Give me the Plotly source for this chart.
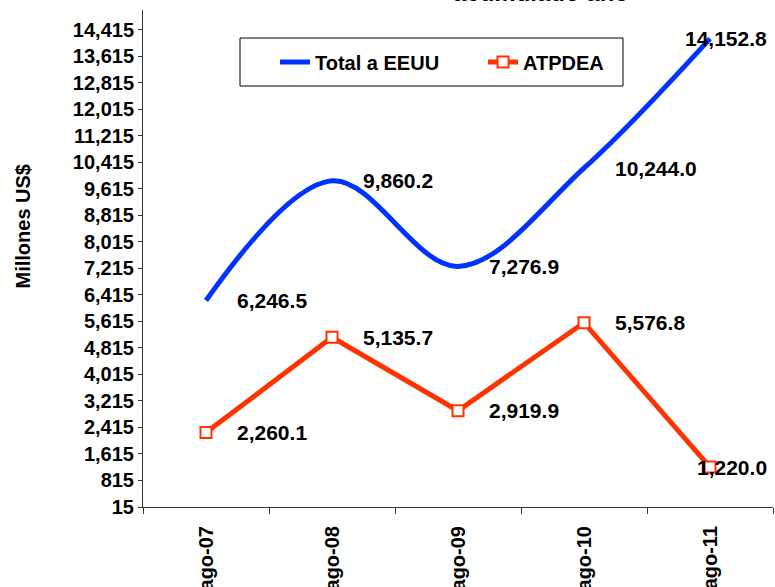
import plotly.graph_objects as go

categories = ["ago-07", "ago-08", "ago-09", "ago-10", "ago-11"]
total_eeuu = [6246.5, 9860.2, 7276.9, 10244.0, 14152.8]
atpdea = [2260.1, 5135.7, 2919.9, 5576.8, 1220.0]
y_ticks = [15 + 800 * i for i in range(19)]
y_ticktext = [f"{v:,}" for v in y_ticks]

FONT = "Liberation Sans, Arial, sans-serif"
BLUE = "#0033FF"
RED = "#FF3300"

fig = go.Figure()
fig.add_trace(go.Scatter(
    x=categories, y=total_eeuu, name="<b>Total a EEUU</b>" + "&nbsp;" * 7, mode="lines",
    line=dict(color=BLUE, width=5, shape="spline", smoothing=1.0),
))
fig.add_trace(go.Scatter(
    x=categories, y=atpdea, name="<b>ATPDEA</b>", mode="lines+markers",
    line=dict(color=RED, width=5),
    marker=dict(symbol="square", size=11, color="white", line=dict(color=RED, width=2)),
))

annotations = []
for series in (total_eeuu, atpdea):
    for i, (c, v) in enumerate(zip(categories, series)):
        last = i == len(categories) - 1
        annotations.append(dict(
            x=c, y=v, xref="x", yref="y", text=f"<b>{v:,.1f}</b>",
            showarrow=False, xanchor="right" if last else "left",
            xshift=59 if last else 29, yanchor="middle",
            font=dict(family=FONT, size=21, color="black"),
        ))

annotations.append(dict(
    x=0.632, y=1.004, xref="paper", yref="paper", text="<b>acumulado año</b>",
    showarrow=False, xanchor="center", yanchor="bottom",
    font=dict(family=FONT, size=24, color="black"),
))
annotations.append(dict(
    x=-0.19, y=0.565, xref="paper", yref="paper", text="<b>Millones US$</b>",
    showarrow=False, textangle=-90, xanchor="center", yanchor="middle",
    font=dict(family=FONT, size=20, color="black"),
))

# legend frame (paper coords: plot area x 143..773, y 10..507)
shapes = [dict(
    type="rect", xref="paper", yref="paper",
    x0=(240 - 143) / 630, x1=(623 - 143) / 630,
    y0=(507 - 86) / 497, y1=(507 - 38) / 497,
    line=dict(color="black", width=1), fillcolor="white", layer="below",
)]

fig.update_layout(
    width=775, height=587,
    margin=dict(l=143, r=2, t=10, b=80),
    plot_bgcolor="white", paper_bgcolor="white",
    font=dict(family=FONT, size=20, color="black"),
    showlegend=True,
    legend=dict(
        orientation="h", x=(275 - 143) / 630, y=(507 - 62) / 497,
        xanchor="left", yanchor="middle",
        borderwidth=0, bgcolor="rgba(0,0,0,0)",
        font=dict(family=FONT, size=20, color="black"),
    ),
    shapes=shapes,
    annotations=annotations,
    xaxis=dict(
        type="category", showline=True, linecolor="#333", linewidth=1,
        ticks="outside", ticklen=6, tickcolor="#333", tickson="boundaries",
        tickangle=-90, tickfont=dict(family=FONT, size=20, color="black"),
        ticklabelstandoff=10, automargin=False,
        tickvals=categories, ticktext=[f"<b>{c}</b>" for c in categories],
        showgrid=False, range=[-0.5, 4.5],
    ),
    yaxis=dict(
        range=[15, 15015], showline=True, linecolor="#333", linewidth=1,
        ticks="outside", ticklen=4, tickcolor="#333", automargin=False,
        tickvals=y_ticks, ticktext=[f"<b>{t}</b>" for t in y_ticktext],
        tickfont=dict(family=FONT, size=20, color="black"),
        showgrid=False, zeroline=False,
    ),
)

fig.write_html(
    "out.html",
    config={"displayModeBar": False},
    post_script="document.body.style.margin='0px';document.body.style.overflow='hidden';",
)
